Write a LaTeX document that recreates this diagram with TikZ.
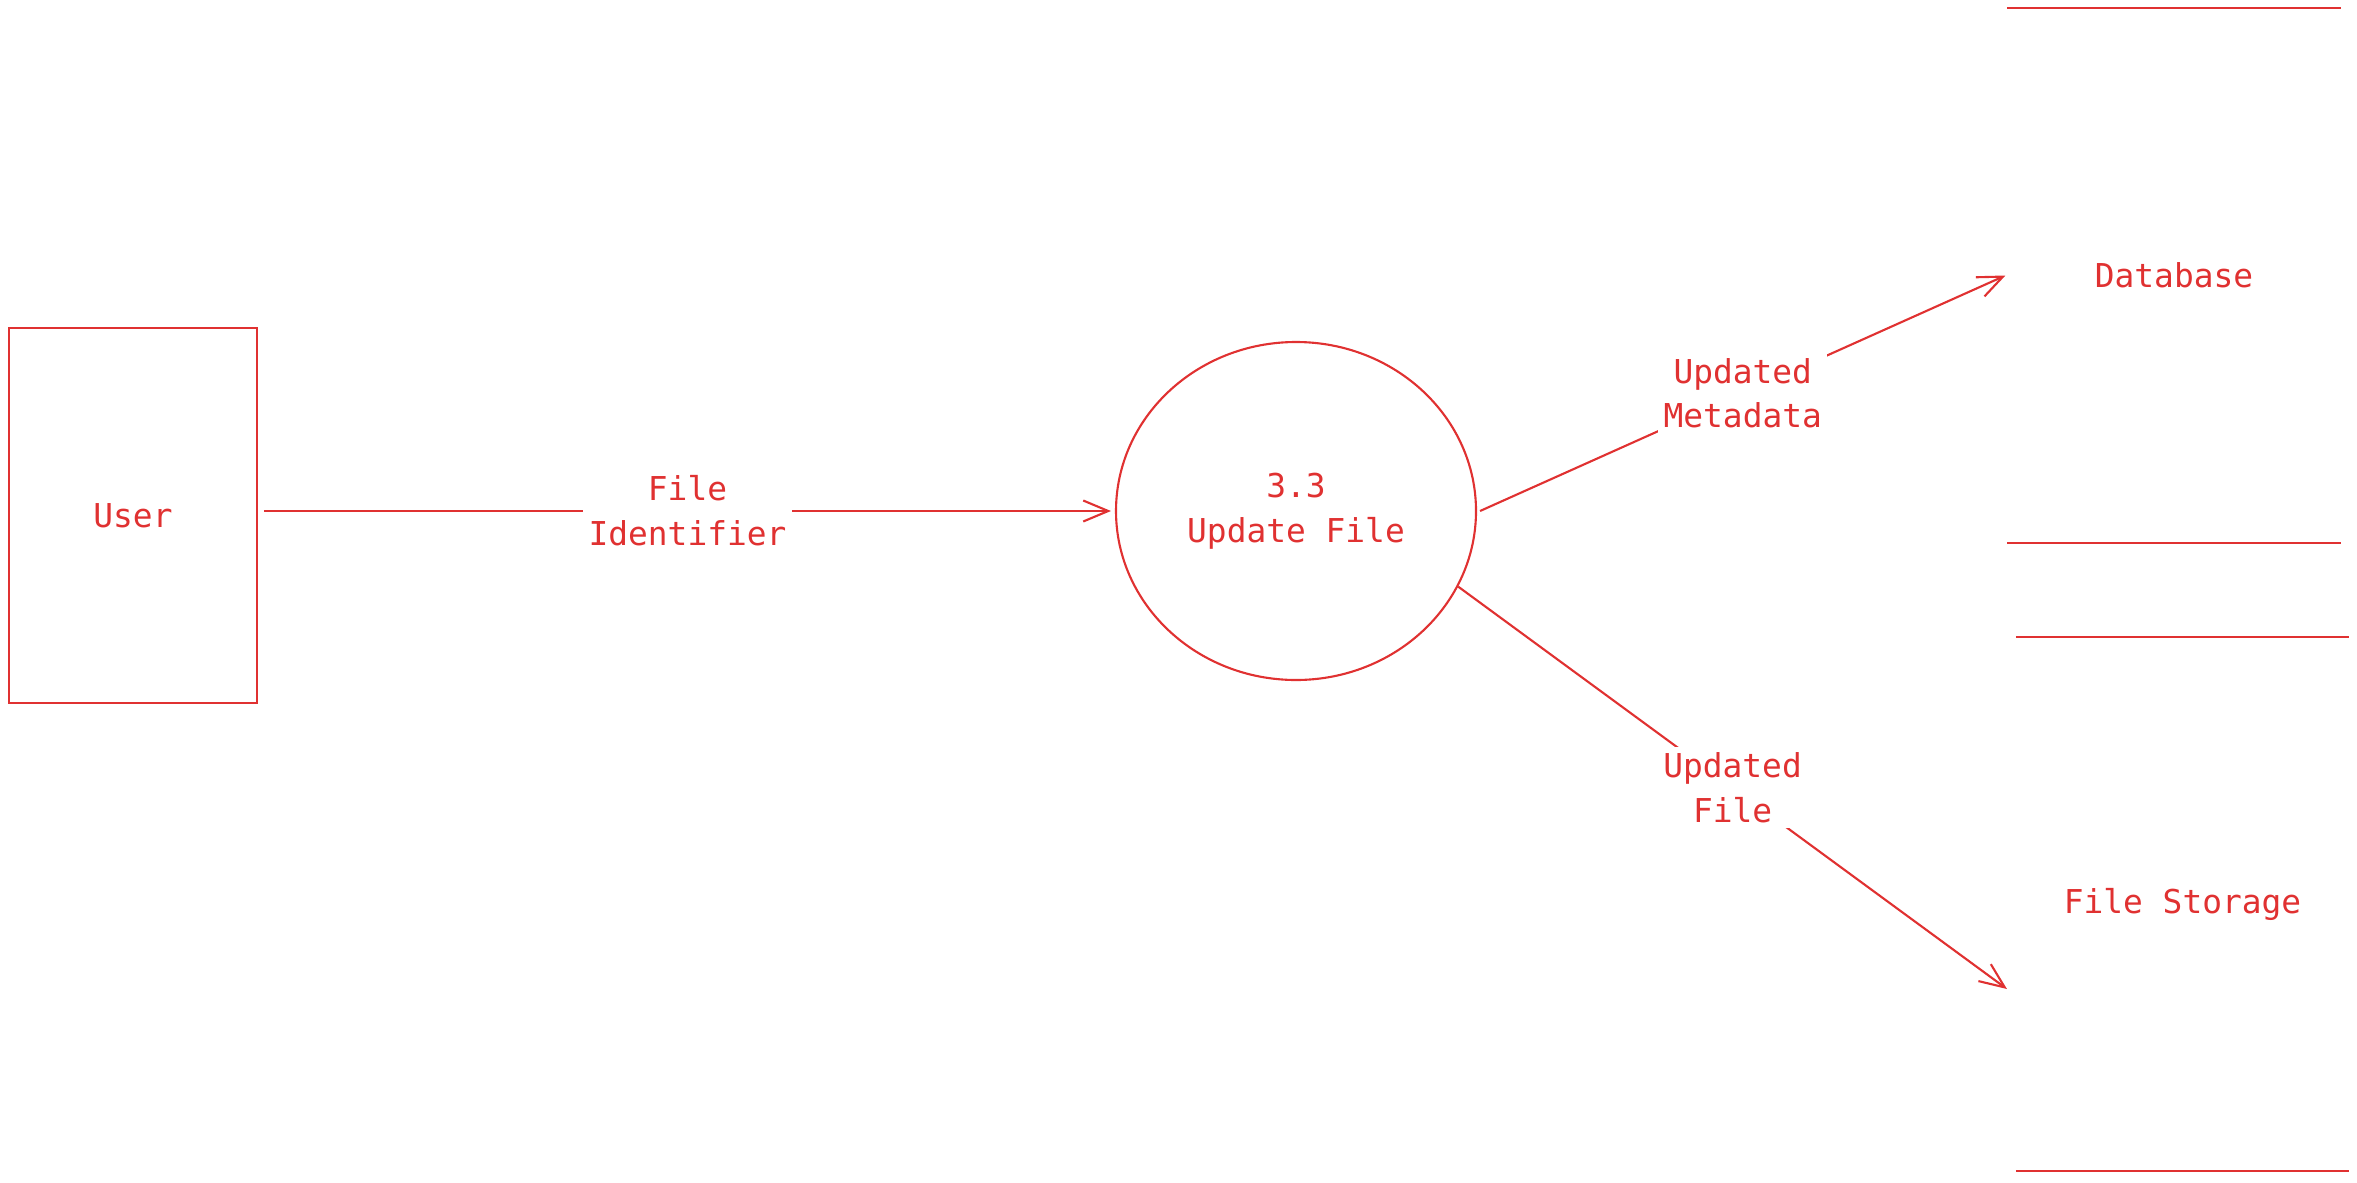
\documentclass[tikz,border=0pt]{standalone}
\usepackage{fontspec}
\setmonofont{DejaVu Sans Mono}
\usepackage{tikz}
\usetikzlibrary{arrows.meta, positioning, shapes.geometric}
\definecolor{dfdred}{RGB}{224,49,49}

\begin{document}
\begin{tikzpicture} [dfdred, line width = 1.2pt, on grid,
		font=\ttfamily\fontsize{18.7}{25.6}\selectfont,
		entity/.style = {draw, rectangle, minimum width = 4.96cm, minimum height = 7.5cm},
		process/.style = {draw, ellipse, inner sep = 0pt, minimum width = 7.2cm, minimum height = 6.76cm, align = center},
		store/.style = {rectangle, minimum width = 6.62cm, minimum height = 10.64cm},
		flow/.style = {-{Straight Barb[length = 0.5cm, width = 0.42cm]}},
		lbl/.style = {fill = white, align = center, inner sep = 3pt}]
			% Picture size
			\useasboundingbox (0,0) rectangle (47.14,-23.64);
			% External entity : every other node is measured from this one
			\node (user) [entity] at (2.66,-10.31) {User};
			% Process
			\node (proc) [process, above right = 0.09cm and 23.26cm of user] {3.3\\Update File};
			% Data stores
			\node (db) [store, above right = 4.71cm and 17.56cm of proc] {Database};
			\node (fs) [store, below right = 7.86cm and 17.73cm of proc] {File Storage};
			\foreach \s in {db, fs}
				\draw (\s.north west) -- (\s.north east) (\s.south west) -- (\s.south east);
			% Draw Arrows/Connections
			\path [flow]
			([xshift = 0.12cm]user.east |- proc.west) edge node [lbl] {File\\Identifier} ([xshift = -0.08cm]proc.west)
			([xshift = 0.06cm]proc.east) edge node [lbl] {Updated\\Metadata} ([xshift = -0.04cm]db.west)
			(proc.-25) edge node [lbl] {Updated\\File} ([xshift = -0.18cm, yshift = -1.7cm]fs.west);
		\end{tikzpicture}
\end{document}
